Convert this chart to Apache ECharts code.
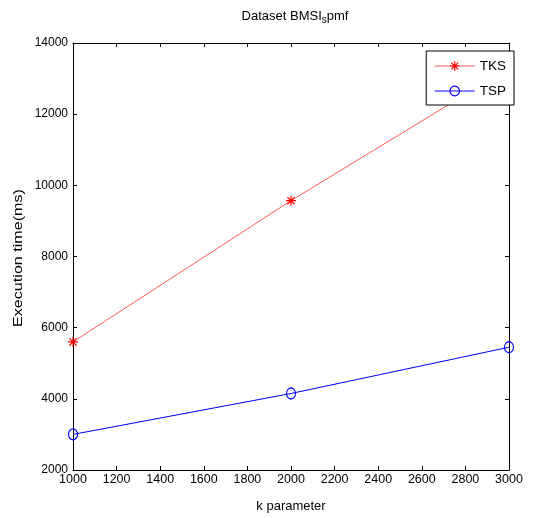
<!DOCTYPE html>
<html>
<head>
<meta charset="utf-8">
<script src="https://cdn.jsdelivr.net/npm/echarts@6/dist/echarts.min.js"></script>
<style>
  html, body { margin: 0; padding: 0; background: #fff; }
  #chart { width: 533px; height: 518px; }
</style>
</head>
<body>
<div id="chart"></div>
<script>
// k parameter values and execution times (ms)
const kValues = [1000, 2000, 3000];
const tksTimes = [5600, 9570, 13300];
const tspTimes = [3000, 4150, 5450];
const seriesNames = ['TKS', 'TSP'];

const FONT = '"Liberation Sans", Arial, sans-serif';
const asterisk = 'path://M0,-6L0,6M-6,0L6,0M-4.3,-4.3L4.3,4.3M-4.3,4.3L4.3,-4.3';
const TKS_LINE = '#ff5a5a', TKS_MARK = '#ff0000', TSP_COLOR = '#0000ff';

const chart = echarts.init(document.getElementById('chart'), null, { renderer: 'canvas' });

const tickStyle = { show: true, inside: true, length: 4, lineStyle: { color: '#000', width: 1 } };
const lineStyle = { show: true, lineStyle: { color: '#000', width: 1 } };
const plain = v => String(v);

chart.setOption({
  animation: false,
  backgroundColor: '#fff',
  title: {
    text: 'Dataset BMSI{sub|s}pmf',
    left: 290,
    textAlign: 'center',
    top: 3,
    textStyle: {
      fontFamily: FONT, fontSize: 13, fontWeight: 'normal', color: '#000',
      rich: { sub: { fontFamily: FONT, fontSize: 10, color: '#000', verticalAlign: 'bottom', padding: [7, 0, 0, 0] } }
    }
  },
  grid: { left: 73, right: 24, top: 43, bottom: 45, containLabel: false },
  legend: {
    data: [
      { name: seriesNames[0],
        itemStyle: { color: 'rgba(0,0,0,0)', borderColor: TKS_MARK, borderWidth: 1.2 },
        lineStyle: { color: TKS_LINE, width: 1 } },
      { name: seriesNames[1],
        itemStyle: { color: 'rgba(0,0,0,0)', borderColor: TSP_COLOR, borderWidth: 1.2 },
        lineStyle: { color: TSP_COLOR, width: 1 } }
    ],
    orient: 'vertical',
    right: 19,
    top: 51,
    itemWidth: 40,
    itemHeight: 12,
    itemGap: 11,
    padding: [8, 8, 7, 8],
    borderColor: '#000',
    borderWidth: 1,
    backgroundColor: '#fff',
    textStyle: { fontFamily: FONT, fontSize: 13.5, color: '#000' }
  },
  graphic: [{
    type: 'text',
    x: 18,
    y: 258,
    rotation: Math.PI / 2,
    scaleX: 1.24,
    style: {
      text: 'Execution time(ms)',
      font: '13px ' + FONT,
      fill: '#000',
      align: 'center',
      verticalAlign: 'middle'
    }
  }],
  xAxis: [{
    type: 'value', min: 1000, max: 3000, interval: 200,
    name: 'k parameter', nameLocation: 'middle', nameGap: 30,
    nameTextStyle: { fontFamily: FONT, fontSize: 13, color: '#000' },
    axisLine: lineStyle, axisTick: tickStyle, splitLine: { show: false },
    axisLabel: { fontFamily: FONT, fontSize: 12.5, color: '#000', margin: 3, formatter: plain }
  }, {
    type: 'value', min: 1000, max: 3000, interval: 200, position: 'top',
    axisLine: lineStyle, axisTick: tickStyle, splitLine: { show: false },
    axisLabel: { show: false }
  }],
  yAxis: [{
    type: 'value', min: 2000, max: 14000, interval: 2000,
    axisLine: lineStyle, axisTick: tickStyle, splitLine: { show: false },
    axisLabel: { fontFamily: FONT, fontSize: 12, color: '#000', margin: 5, formatter: plain }
  }, {
    type: 'value', min: 2000, max: 14000, interval: 2000, position: 'right',
    axisLine: lineStyle, axisTick: tickStyle, splitLine: { show: false },
    axisLabel: { show: false }
  }],
  series: [{
    name: seriesNames[0],
    type: 'line',
    color: TKS_MARK,
    data: kValues.map((k, i) => [k, tksTimes[i]]),
    symbol: asterisk,
    symbolSize: 10,
    showAllSymbol: true,
    lineStyle: { color: TKS_LINE, width: 1 },
    itemStyle: { color: 'rgba(0,0,0,0)', borderColor: TKS_MARK, borderWidth: 1.2 },
    emphasis: { disabled: true }
  }, {
    name: seriesNames[1],
    type: 'line',
    color: TSP_COLOR,
    data: kValues.map((k, i) => [k, tspTimes[i]]),
    symbol: 'circle',
    symbolSize: [9, 11],
    showAllSymbol: true,
    lineStyle: { color: TSP_COLOR, width: 1 },
    itemStyle: { color: 'rgba(0,0,0,0)', borderColor: TSP_COLOR, borderWidth: 1.2 },
    emphasis: { disabled: true }
  }]
});
</script>
</body>
</html>
